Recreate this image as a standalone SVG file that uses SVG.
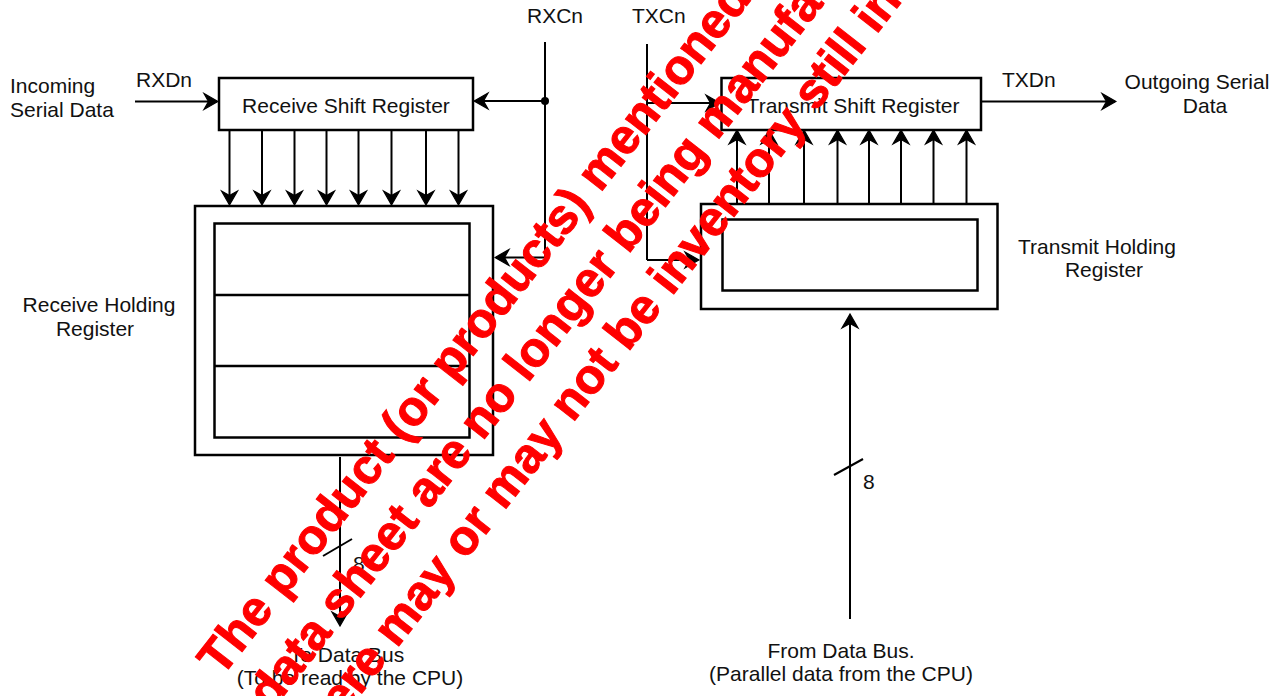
<svg xmlns="http://www.w3.org/2000/svg" width="1283" height="696" viewBox="0 0 1283 696">
<style>
.box{fill:#fff;stroke:#000;stroke-width:2.5}
.inner{fill:none;stroke:#000;stroke-width:2.5}
.ln{fill:none;stroke:#000;stroke-width:2}
.arr{marker-end:url(#ah)}
text{font-family:"Liberation Sans",Arial,Helvetica,sans-serif;font-size:21px;fill:#111}
.mid{text-anchor:middle}
.wm{font-family:"Liberation Sans",Arial,sans-serif;font-weight:bold;font-size:49px;fill:#ff0000;stroke:#ff0000;stroke-width:1}
</style>
<defs>
<marker id="ah" viewBox="-16 -10 18 20" refX="0" refY="0" markerWidth="18" markerHeight="20" markerUnits="userSpaceOnUse" orient="auto">
<path d="M1,0 L-13,-8 L-8.5,0 L-13,8 Z" fill="#000" stroke="#000" stroke-width="1.2" stroke-linejoin="miter"/>
</marker>
</defs>
<rect width="1283" height="696" fill="#fff"/>

<g id="rsr">
<rect class="box" x="219" y="78" width="254" height="52"/>
<text class="mid" x="346" y="113">Receive Shift Register</text>
</g>

<g id="rhr">
<rect class="box" x="195" y="206" width="298" height="249"/>
<rect class="inner" x="214.5" y="223.5" width="255" height="214"/>
<line class="inner" x1="214.5" y1="295" x2="469.5" y2="295"/>
<line class="inner" x1="214.5" y1="366" x2="469.5" y2="366"/>
</g>

<g id="tsr">
<rect class="box" x="721.5" y="78" width="259.5" height="52"/>
<text class="mid" x="853" y="113">Transmit Shift Register</text>
</g>

<g id="thr">
<rect class="box" x="701" y="204" width="296.5" height="105"/>
<rect class="inner" x="722.5" y="219.5" width="255" height="71"/>
</g>

<g id="labels">
<text x="10" y="93">Incoming</text>
<text x="10" y="117">Serial Data</text>
<text x="136" y="87">RXDn</text>
<text x="527" y="23">RXCn</text>
<text x="632" y="23">TXCn</text>
<text x="1002" y="87">TXDn</text>
<text class="mid" x="1197" y="89">Outgoing Serial</text>
<text class="mid" x="1205" y="113">Data</text>
<text class="mid" x="99" y="312">Receive Holding</text>
<text class="mid" x="95" y="336">Register</text>
<text class="mid" x="1097" y="254">Transmit Holding</text>
<text class="mid" x="1104" y="277">Register</text>
<text x="353" y="571">8</text>
<text x="863" y="489">8</text>
<text class="mid" x="347" y="662">To Data Bus</text>
<text class="mid" x="350" y="685">(To be read by the CPU)</text>
<text class="mid" x="841" y="658">From Data Bus.</text>
<text class="mid" x="841" y="681">(Parallel data from the CPU)</text>
</g>

<g id="connectors">
<line class="ln arr" x1="135" y1="101.5" x2="217" y2="101.5"/>
<line class="ln" x1="545" y1="42" x2="545" y2="257.5"/>
<circle cx="545" cy="101" r="4" fill="#000"/>
<line class="ln arr" x1="545" y1="101" x2="475" y2="101"/>
<line class="ln arr" x1="545" y1="257.5" x2="496" y2="257.5"/>
<line class="ln" x1="647" y1="44" x2="647" y2="260"/>
<line class="ln arr" x1="647" y1="103" x2="719" y2="103"/>
<line class="ln arr" x1="647" y1="260" x2="698" y2="260"/>
<line class="ln arr" x1="981" y1="101.5" x2="1115" y2="101.5"/>
<g id="rx-parallel">
<line class="ln arr" x1="229.5" y1="131" x2="229.5" y2="204"/>
<line class="ln arr" x1="262" y1="131" x2="262" y2="204"/>
<line class="ln arr" x1="294.5" y1="131" x2="294.5" y2="204"/>
<line class="ln arr" x1="326.5" y1="131" x2="326.5" y2="204"/>
<line class="ln arr" x1="358.5" y1="131" x2="358.5" y2="204"/>
<line class="ln arr" x1="391.5" y1="131" x2="391.5" y2="204"/>
<line class="ln arr" x1="426" y1="131" x2="426" y2="204"/>
<line class="ln arr" x1="458.5" y1="131" x2="458.5" y2="204"/>
</g>
<g id="tx-parallel">
<line class="ln arr" x1="737" y1="203" x2="737" y2="131"/>
<line class="ln arr" x1="769" y1="203" x2="769" y2="131"/>
<line class="ln arr" x1="804" y1="203" x2="804" y2="131"/>
<line class="ln arr" x1="837.5" y1="203" x2="837.5" y2="131"/>
<line class="ln arr" x1="869" y1="203" x2="869" y2="131"/>
<line class="ln arr" x1="901" y1="203" x2="901" y2="131"/>
<line class="ln arr" x1="933.5" y1="203" x2="933.5" y2="131"/>
<line class="ln arr" x1="966.5" y1="203" x2="966.5" y2="131"/>
</g>
<line class="ln arr" x1="340" y1="457" x2="340" y2="625"/>
<line class="ln" x1="323" y1="556" x2="352" y2="539"/>
<line class="ln arr" x1="850" y1="619" x2="850" y2="315"/>
<line class="ln" x1="834" y1="475" x2="863" y2="459"/>
</g>

<g id="watermark" transform="rotate(-52)">
<text class="wm" x="-398" y="592">The product (or products) mentioned in</text>
<text class="wm" x="-394" y="652">data sheet are no longer being manufac</text>
<text class="wm" x="-384" y="712">here may or may not be inventory still in</text>
</g>
</svg>
